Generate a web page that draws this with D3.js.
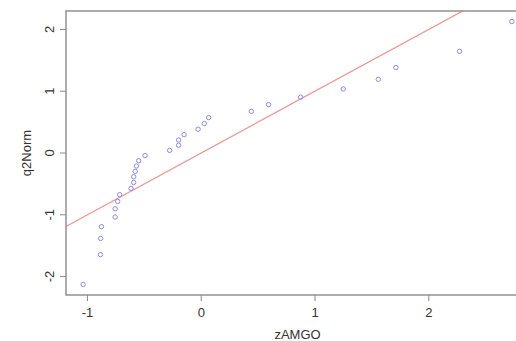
<!DOCTYPE html>
<html>
<head>
<meta charset="utf-8">
<script src="https://cdn.jsdelivr.net/npm/d3@7"></script>
<style>
  body { margin: 0; background: #fff; }
  text { font-family: "Liberation Sans", Arial, sans-serif; fill: #333; }
</style>
</head>
<body>
<div id="chart"></div>
<script>
// sample values (zAMGO) and the normal quantiles they are plotted against (q2Norm)
let zAMGO = [-1.038, -0.886, -0.884, -0.877, -0.757, -0.757, -0.734, -0.717, -0.617, -0.594,
             -0.594, -0.581, -0.570, -0.550, -0.494, -0.278, -0.199, -0.199, -0.151, -0.028,
             0.027, 0.065, 0.440, 0.592, 0.873, 1.248, 1.556, 1.711, 2.270, 2.730];
let q2Norm = [-2.128, -1.645, -1.383, -1.192, -1.036, -0.903, -0.783, -0.674, -0.573, -0.477,
              -0.385, -0.297, -0.210, -0.126, -0.042, 0.042, 0.126, 0.210, 0.297, 0.385,
              0.477, 0.573, 0.674, 0.783, 0.903, 1.036, 1.192, 1.383, 1.645, 2.128];
let xTicks = [-1, 0, 1, 2];
let yTicks = [-2, -1, 0, 1, 2];
let refLine = { intercept: 0, slope: 1 };

let width = 516, height = 341;
let plot = { left: 66, right: 529, top: 11, bottom: 295 };

let points = zAMGO.map((x, i) => ({ x: x, y: q2Norm[i] }));

// R style 4% padding on each side
function padded(ext) {
    let p = (ext[1] - ext[0]) * 0.04;
    return [ext[0] - p, ext[1] + p];
}

let x = d3.scaleLinear()
    .domain(padded(d3.extent(zAMGO)))
    .range([plot.left, plot.right]);

let y = d3.scaleLinear()
    .domain(padded(d3.extent(q2Norm)))
    .range([plot.bottom, plot.top]);

let svg = d3.select("#chart").append("svg")
    .attr("width", width)
    .attr("height", height);

svg.append("defs").append("clipPath")
    .attr("id", "clip")
    .append("rect")
    .attr("x", plot.left)
    .attr("y", plot.top)
    .attr("width", plot.right - plot.left)
    .attr("height", plot.bottom - plot.top);

// reference line
let xd = x.domain();
svg.append("line")
    .attr("clip-path", "url(#clip)")
    .attr("x1", x(xd[0]))
    .attr("y1", y(refLine.intercept + refLine.slope * xd[0]))
    .attr("x2", x(xd[1]))
    .attr("y2", y(refLine.intercept + refLine.slope * xd[1]))
    .attr("stroke", "#eb9a9a")
    .attr("stroke-width", 1.3);

// points
svg.append("g")
    .selectAll("circle")
    .data(points)
    .enter().append("circle")
    .attr("cx", d => x(d.x))
    .attr("cy", d => y(d.y))
    .attr("r", 2.2)
    .attr("fill", "none")
    .attr("stroke", "#8c8ce6")
    .attr("stroke-width", 1);

// box
svg.append("rect")
    .attr("x", plot.left)
    .attr("y", plot.top)
    .attr("width", plot.right - plot.left)
    .attr("height", plot.bottom - plot.top)
    .attr("fill", "none")
    .attr("stroke", "#8a8a8a")
    .attr("stroke-width", 1.4);

// x axis
let xAxis = svg.append("g").attr("class", "axis axis--x");
xAxis.selectAll("line")
    .data(xTicks)
    .enter().append("line")
    .attr("x1", d => x(d)).attr("x2", d => x(d))
    .attr("y1", plot.bottom).attr("y2", plot.bottom + 6)
    .attr("stroke", "#8a8a8a");
xAxis.selectAll("text")
    .data(xTicks)
    .enter().append("text")
    .attr("x", d => x(d))
    .attr("y", 312)
    .attr("dy", "0.35em")
    .attr("text-anchor", "middle")
    .style("font-size", "13px")
    .text(d => d);

// y axis
let yAxis = svg.append("g").attr("class", "axis axis--y");
yAxis.selectAll("line")
    .data(yTicks)
    .enter().append("line")
    .attr("x1", plot.left - 6).attr("x2", plot.left)
    .attr("y1", d => y(d)).attr("y2", d => y(d))
    .attr("stroke", "#8a8a8a");
yAxis.selectAll("text")
    .data(yTicks)
    .enter().append("text")
    .attr("transform", d => `translate(49, ${y(d)}) rotate(-90)`)
    .attr("dy", "0.35em")
    .attr("text-anchor", "middle")
    .style("font-size", "13px")
    .text(d => d);

// axis titles
svg.append("text")
    .attr("x", (plot.left + plot.right) / 2)
    .attr("y", 334)
    .attr("dy", "0.35em")
    .attr("text-anchor", "middle")
    .style("font-size", "13px")
    .text("zAMGO");

svg.append("text")
    .attr("transform", `translate(26, ${(plot.top + plot.bottom) / 2}) rotate(-90)`)
    .attr("dy", "0.35em")
    .attr("text-anchor", "middle")
    .style("font-size", "13px")
    .text("q2Norm");
</script>
</body>
</html>
